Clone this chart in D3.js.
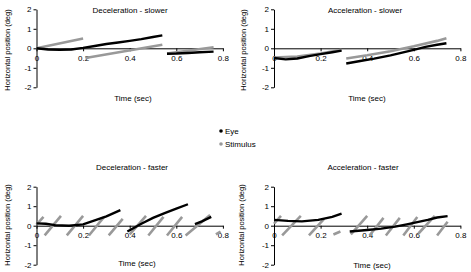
<!DOCTYPE html>
<html>
<head>
<meta charset="utf-8">
<script src="https://cdn.jsdelivr.net/npm/d3@7"></script>
<style>
  body { margin: 0; background: #fff; }
  svg { display: block; font-family: "Liberation Sans", Arial, sans-serif; }
  .axis path, .axis line { stroke: #000; stroke-width: 1; }
  .axis text { font-size: 8px; fill: #000; }
</style>
</head>
<body>
<svg id="chart" width="471" height="272"></svg>
<script>
// tick labels
const timeTicks = [0, 0.2, 0.4, 0.6, 0.8];
const posTicks = [-2, -1, 0, 1, 2];

const panelTitles = ["Deceleration - slower", "Acceleration - slower",
                     "Deceleration - faster", "Acceleration - faster"];
const legendLabels = ["Eye", "Stimulus"];

// each series = list of segments, each segment = [time (sec), position (deg)] points
const decSlowerEye = [
  [[0, 0], [0.05, -0.06], [0.1, -0.08], [0.15, -0.06], [0.2, 0.02], [0.25, 0.12],
   [0.3, 0.22], [0.35, 0.3], [0.4, 0.38], [0.45, 0.47], [0.5, 0.58], [0.54, 0.66]],
  [[0.56, -0.28], [0.6, -0.27], [0.65, -0.24], [0.7, -0.2], [0.76, -0.17]]
];
const decSlowerStim = [
  [[0, 0], [0.2, 0.5]],
  [[0.21, -0.5], [0.54, 0.18]],
  [[0.56, -0.27], [0.76, 0.05]]
];

const accSlowerEye = [
  [[0, -0.5], [0.05, -0.57], [0.1, -0.52], [0.15, -0.4], [0.2, -0.3], [0.25, -0.2], [0.29, -0.12]],
  [[0.31, -0.78], [0.37, -0.65], [0.43, -0.53], [0.5, -0.36], [0.55, -0.22], [0.6, -0.08],
   [0.65, 0.07], [0.7, 0.18], [0.74, 0.26]]
];
const accSlowerStim = [
  [[0, -0.47], [0.1, -0.42], [0.2, -0.27], [0.29, -0.08]],
  [[0.31, -0.52], [0.4, -0.36], [0.5, -0.15], [0.6, 0.1], [0.7, 0.38], [0.74, 0.52]]
];

const decFasterEye = [
  [[0, 0.12], [0.04, 0.1], [0.08, 0.03], [0.14, 0], [0.2, 0.07], [0.25, 0.27],
   [0.3, 0.48], [0.36, 0.8]],
  [[0.39, -0.3], [0.45, 0.1], [0.5, 0.4], [0.55, 0.65], [0.6, 0.87], [0.65, 1.1]],
  [[0.68, 0.08], [0.71, 0.22], [0.75, 0.45]]
];
const decFasterStim = [
  [[0, 0.05], [0.03, 0.45]],
  [[0.035, -0.5], [0.105, 0.5]],
  [[0.13, -0.5], [0.2, 0.5]],
  [[0.225, -0.5], [0.29, 0.45]],
  [[0.31, -0.5], [0.37, 0.35]],
  [[0.4, -0.45], [0.47, 0.5]],
  [[0.48, -0.5], [0.545, 0.45]],
  [[0.56, -0.5], [0.625, 0.45]],
  [[0.64, -0.5], [0.745, 0.55]],
  [[0.77, -0.45], [0.79, -0.3]]
];

const accFasterEye = [
  [[0, 0.3], [0.06, 0.25], [0.12, 0.22], [0.19, 0.3], [0.25, 0.45], [0.29, 0.62]],
  [[0.325, -0.3], [0.4, -0.22], [0.46, -0.15], [0.52, -0.05], [0.57, 0.07], [0.62, 0.2],
   [0.66, 0.3], [0.7, 0.42], [0.745, 0.49]]
];
const accFasterStim = [
  [[0, 0.1], [0.03, 0.5]],
  [[0.035, -0.5], [0.115, 0.5]],
  [[0.15, -0.5], [0.215, 0.35]],
  [[0.255, -0.45], [0.285, -0.3]],
  [[0.33, -0.45], [0.4, 0.5]],
  [[0.41, -0.5], [0.47, 0.4]],
  [[0.48, -0.5], [0.54, 0.4]],
  [[0.555, -0.5], [0.615, 0.45]],
  [[0.62, -0.4], [0.69, 0.5]],
  [[0.7, -0.5], [0.745, 0.2]]
];

const eyeSeries = [decSlowerEye, accSlowerEye, decFasterEye, accFasterEye];
const stimSeries = [decSlowerStim, accSlowerStim, decFasterStim, accFasterStim];

// panel layout (pixel positions of the plot areas)
const panels = [
  { left: 36.5, top: 9.3,   titleX: 130, titleY: 13,  timeX: 133, timeY: 101, labX: 7,   labY: 50 },
  { left: 274,  top: 9.3,   titleX: 365, titleY: 13,  timeX: 367, timeY: 101, labX: 243, labY: 50 },
  { left: 36.5, top: 186.7, titleX: 132, titleY: 170, timeX: 137, timeY: 266, labX: 7,   labY: 225 },
  { left: 274,  top: 186.7, titleX: 363, titleY: 170, timeX: 372, timeY: 268, labX: 241, labY: 225 }
];

const svg = d3.select('#chart');
svg.append('rect').attr('width', 471).attr('height', 272).attr('fill', '#fff');

const plotW = 186.4, plotH = 78;
const eyeColor = '#000', stimColor = '#999';

function drawPanel(i) {
  const p = panels[i];
  const x = d3.scaleLinear().domain([0, 0.8]).range([p.left, p.left + plotW]);
  const y = d3.scaleLinear().domain([-2, 2]).range([p.top + plotH, p.top]);

  const g = svg.append('g');

  // y axis
  g.append('g')
    .attr('class', 'axis')
    .attr('transform', `translate(${x(0)},0)`)
    .call(d3.axisLeft(y).tickValues(posTicks).tickSize(3).tickSizeOuter(0).tickPadding(2)
      .tickFormat(d => String(d)));

  // x axis at zero
  g.append('g')
    .attr('class', 'axis')
    .attr('transform', `translate(0,${y(0)})`)
    .call(d3.axisBottom(x).tickValues(timeTicks).tickSize(3).tickSizeOuter(0).tickPadding(4)
      .tickFormat(d => d === 0 ? '0' : d.toFixed(1)));

  const line = d3.line().x(d => x(d[0])).y(d => y(d[1]));

  g.selectAll('path.stim')
    .data(stimSeries[i])
    .enter()
    .append('path')
    .attr('class', 'stim')
    .attr('d', line)
    .attr('fill', 'none')
    .attr('stroke', stimColor)
    .attr('stroke-width', 2.6);

  g.selectAll('path.eye')
    .data(eyeSeries[i])
    .enter()
    .append('path')
    .attr('class', 'eye')
    .attr('d', line)
    .attr('fill', 'none')
    .attr('stroke', eyeColor)
    .attr('stroke-width', 2.4);

  // title
  g.append('text')
    .attr('x', p.titleX).attr('y', p.titleY)
    .attr('text-anchor', 'middle')
    .style('font-size', '8px')
    .text(panelTitles[i]);

  // axis titles
  g.append('text')
    .attr('x', p.timeX).attr('y', p.timeY)
    .attr('text-anchor', 'middle')
    .style('font-size', '8px')
    .text('Time (sec)');

  g.append('text')
    .attr('transform', `translate(${p.labX},${p.labY}) rotate(-90)`)
    .attr('text-anchor', 'middle')
    .attr('dy', '0.35em')
    .style('font-size', '7.5px')
    .text('Horizontal position (deg)');
}

for (let i = 0; i < panels.length; i++) {
  drawPanel(i);
}

// legend
const legend = svg.append('g');
const legendColors = [eyeColor, stimColor];
legendLabels.forEach((label, k) => {
  legend.append('circle')
    .attr('cx', 221).attr('cy', 131 + k * 13)
    .attr('r', 1.8)
    .attr('fill', legendColors[k]);
  legend.append('text')
    .attr('x', 225).attr('y', 131 + k * 13)
    .attr('dy', '0.35em')
    .style('font-size', '8px')
    .text(label);
});
</script>
</body>
</html>
